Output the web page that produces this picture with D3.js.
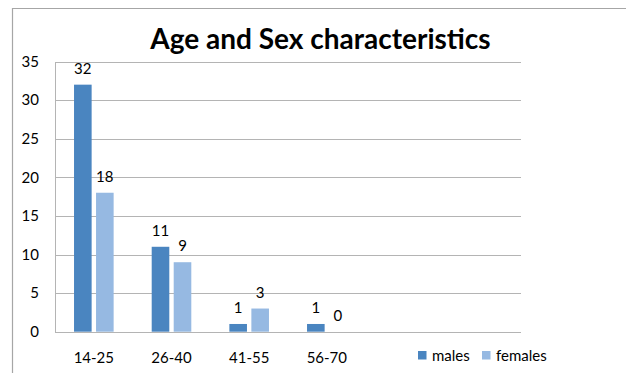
<!DOCTYPE html>
<html>
<head>
<meta charset="utf-8">
<script src="https://cdn.jsdelivr.net/npm/d3@7"></script>
<style>
  html, body { margin: 0; padding: 0; background: #fff; overflow: hidden; }
  svg { display: block; }
  text { font-family: Lato, "Open Sans", sans-serif; fill: #000; }
</style>
</head>
<body>
<svg id="chart" width="626" height="373"></svg>
<script>
// Age groups and counts per sex
const categories = ["14-25", "26-40", "41-55", "56-70"];
const seriesNames = ["males", "females"];
const males = [32, 11, 1, 1];
const females = [18, 9, 3, 0];
const yTicks = [0, 5, 10, 15, 20, 25, 30, 35];
const title = "Age and Sex characteristics";

const colors = { males: "#4a85c0", females: "#96b9e2" };
const gridColor = "#b4b4b4";
const labelSize = 15;

const svg = d3.select("#chart");

// Chart frame: only the top and left edges fall inside the view
svg.append("path")
  .attr("d", "M12.5,373 V8.5 H626")
  .attr("fill", "none")
  .attr("stroke", "#a6a6a6").attr("stroke-width", 1.2);

const plot = { left: 55, right: 521, top: 61.5, bottom: 331.7 };

// The category axis reserves six slots; only the first four carry data
const slotCount = 6;
const x0 = d3.scaleBand()
  .domain(d3.range(slotCount))
  .range([plot.left, plot.right])
  .paddingInner(0.49).paddingOuter(0.245);

const x1 = d3.scaleBand()
  .domain(seriesNames)
  .range([0, x0.bandwidth()])
  .paddingInner(0.2).paddingOuter(0);

const y = d3.scaleLinear().domain([0, 35]).range([plot.bottom, plot.top]);

// Horizontal gridlines
svg.append("g")
  .selectAll("line")
  .data(yTicks)
  .join("line")
  .attr("x1", plot.left).attr("x2", plot.right)
  .attr("y1", d => Math.round(y(d)) + 0.5)
  .attr("y2", d => Math.round(y(d)) + 0.5)
  .attr("stroke", gridColor).attr("stroke-width", 1);

// Vertical value axis line
svg.append("line")
  .attr("x1", plot.left + 0.5).attr("x2", plot.left + 0.5)
  .attr("y1", Math.round(y(35)) + 0.5).attr("y2", Math.round(y(0)) + 0.5)
  .attr("stroke", gridColor);

// Value axis labels
const yAxis = d3.axisLeft(y).tickValues(yTicks).tickSize(0).tickPadding(16);
const yg = svg.append("g")
  .attr("transform", `translate(${plot.left},0)`)
  .call(yAxis);
yg.select(".domain").remove();
yg.selectAll("text")
  .attr("font-size", labelSize)
  .attr("font-family", "Lato, 'Open Sans', sans-serif")
  .attr("fill", "#000");

// Category labels
const xAxis = d3.axisBottom(x0)
  .tickFormat(i => categories[i] ?? "")
  .tickSize(0).tickPadding(21);
const xg = svg.append("g")
  .attr("transform", `translate(0,${plot.bottom})`)
  .call(xAxis);
xg.select(".domain").remove();
xg.selectAll("text")
  .attr("font-size", labelSize)
  .attr("font-family", "Lato, 'Open Sans', sans-serif")
  .attr("fill", "#000");

// Bars and value labels
const rows = categories.map((c, i) => ({
  index: i,
  values: [
    { key: "males", value: males[i] },
    { key: "females", value: females[i] }
  ]
}));

const groups = svg.append("g")
  .selectAll("g")
  .data(rows)
  .join("g")
  .attr("transform", d => `translate(${x0(d.index)},0)`);

groups.selectAll("rect")
  .data(d => d.values)
  .join("rect")
  .attr("x", d => x1(d.key))
  .attr("y", d => y(d.value))
  .attr("width", x1.bandwidth())
  .attr("height", d => y(0) - y(d.value))
  .attr("fill", d => colors[d.key]);

groups.selectAll("text.value")
  .data(d => d.values)
  .join("text")
  .attr("class", "value")
  .attr("x", d => x1(d.key) + x1.bandwidth() / 2)
  .attr("y", d => y(d.value) - 11)
  .attr("text-anchor", "middle")
  .attr("font-size", labelSize)
  .text(d => d.value);

// Title
svg.append("text")
  .attr("x", 320.5).attr("y", 49)
  .attr("text-anchor", "middle")
  .attr("font-size", 28)
  .attr("font-weight", "bold")
  .attr("fill", "#000")
  .text(title);

// Legend
const legend = svg.append("g").attr("transform", "translate(418,351)");
const legendX = [0, 64];
seriesNames.forEach((name, i) => {
  const g = legend.append("g").attr("transform", `translate(${legendX[i]},0)`);
  g.append("rect").attr("width", 8.5).attr("height", 8.5).attr("fill", colors[name]);
  g.append("text").attr("x", 14).attr("y", 9.5).attr("font-size", labelSize).text(name);
});
</script>
</body>
</html>
